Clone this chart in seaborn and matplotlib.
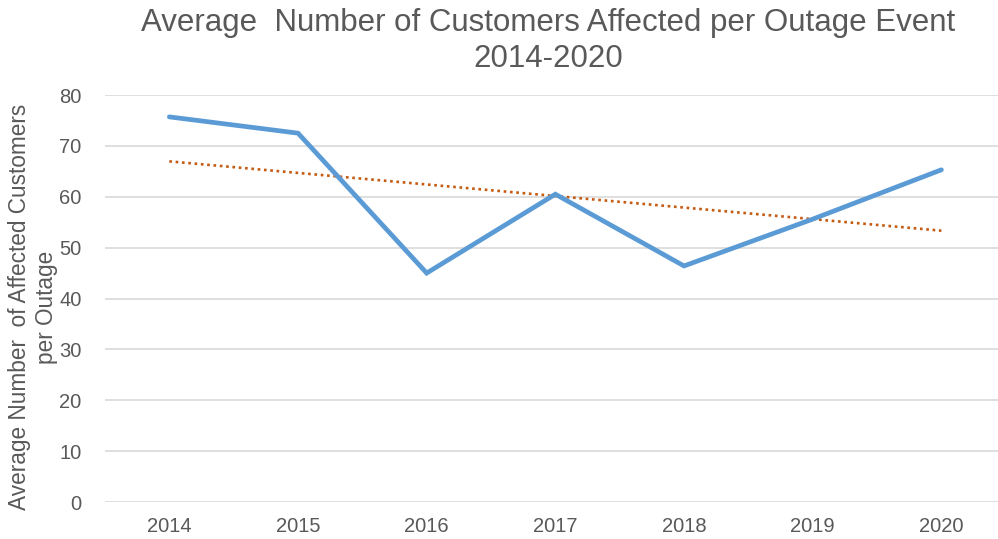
import numpy as np
import pandas as pd
import matplotlib
matplotlib.use("Agg")
import matplotlib.pyplot as plt
import seaborn as sns

years = ["2014", "2015", "2016", "2017", "2018", "2019", "2020"]
avg_customers = [75.7, 72.5, 45.0, 60.5, 46.4, 55.6, 65.3]

sns.set_theme(style="white")
plt.rcParams['font.family'] = ['Liberation Sans', 'DejaVu Sans']

GRAY = "#595959"
fig = plt.figure(figsize=(9.98, 5.39), dpi=100)
ax = fig.add_axes([105/998, 37/539, 1 - 105/998, (502-95)/539])

idx = np.arange(len(years))
df = pd.DataFrame({"idx": idx, "val": avg_customers})
coef = np.polyfit(idx, avg_customers, 1)
df["trend"] = np.polyval(coef, idx)

sns.lineplot(data=df, x="idx", y="trend", ax=ax, color="#C55A11", lw=1.9,
             linestyle=(0, (1, 1.4)), zorder=3)
sns.lineplot(data=df, x="idx", y="val", ax=ax, color="#5B9BD5", lw=3.4,
             zorder=4, solid_joinstyle="miter")

ax.set_xlim(-0.5, 6.44)
ax.set_ylim(0, 80)
ax.set_yticks(range(0, 81, 10))
ax.set_xticks(idx)
ax.set_xticklabels(years)
ax.yaxis.grid(True, color="#D9D9D9", lw=1.2)
ax.xaxis.grid(False)
for s in ax.spines.values():
    s.set_visible(False)
ax.tick_params(axis="both", colors=GRAY, labelsize=14.5, length=0)
ax.tick_params(axis="y", pad=17)
ax.tick_params(axis="x", pad=11)
ax.set_xlabel("")
ax.set_ylabel("")

fig.text(33/998, 1 - 307/539, "Average Number  of Affected Customers\nper Outage",
         rotation=90, ha="center", va="center", color=GRAY, fontsize=16.3,
         linespacing=1.25, multialignment="center")

fig.text(0.549, 0.985, "Average  Number of Customers Affected per Outage Event\n2014-2020",
         ha="center", va="top", fontsize=22.5, color=GRAY, linespacing=1.25)

fig.savefig("out.png", dpi=100, facecolor="white")
